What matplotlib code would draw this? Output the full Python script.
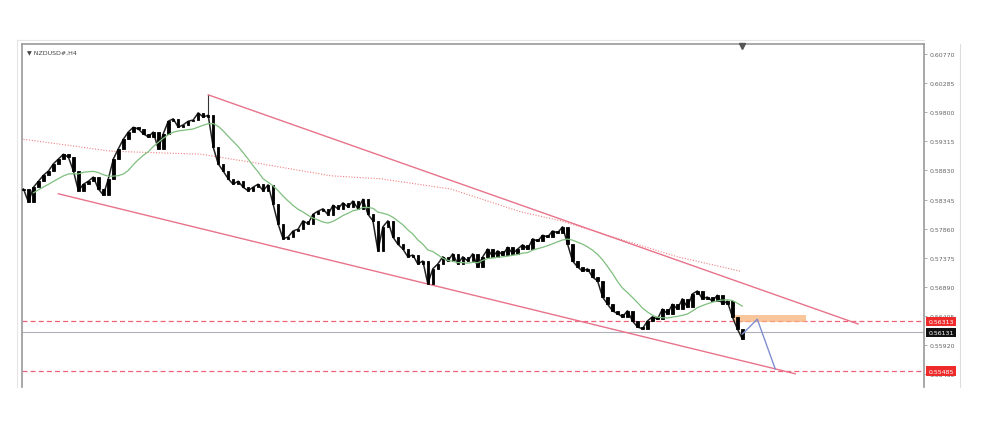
import numpy as np
import pandas as pd
import matplotlib.pyplot as plt
from matplotlib.lines import Line2D

# ---------- data ----------
closes = [
    0.5852, 0.5830, 0.5855, 0.5865, 0.5875, 0.5882, 0.5894, 0.5902, 0.5910, 0.5905,
    0.5882, 0.5849, 0.5860, 0.5865, 0.5872, 0.5852, 0.5842, 0.5869, 0.5902, 0.5919,
    0.5935, 0.5947, 0.5955, 0.5952, 0.5944, 0.5939, 0.5947, 0.5919, 0.5944, 0.5965,
    0.5969, 0.5955, 0.5959, 0.5965, 0.5967, 0.5979, 0.5972, 0.5975, 0.5922, 0.5894,
    0.5882, 0.5869, 0.5860, 0.5865, 0.5855, 0.5849, 0.5855, 0.5860, 0.5849, 0.5859,
    0.5827, 0.5794, 0.5769, 0.5772, 0.5782, 0.5785, 0.5799, 0.5794, 0.5810, 0.5815,
    0.5819, 0.5809, 0.5825, 0.5819, 0.5829, 0.5822, 0.5832, 0.5819, 0.5835, 0.5810,
    0.5799, 0.5749, 0.5789, 0.5799, 0.5772, 0.5760, 0.5752, 0.5739, 0.5742, 0.5727,
    0.5732, 0.5694, 0.5719, 0.5727, 0.5739, 0.5732, 0.5744, 0.5727, 0.5739, 0.5732,
    0.5744, 0.5722, 0.5739, 0.5752, 0.5739, 0.5749, 0.5742, 0.5755, 0.5744, 0.5752,
    0.5759, 0.5752, 0.5769, 0.5765, 0.5775, 0.5772, 0.5782, 0.5779, 0.5789, 0.5760,
    0.5732, 0.5722, 0.5715, 0.5719, 0.5705, 0.5699, 0.5672, 0.5660, 0.5649, 0.5644,
    0.5639, 0.5649, 0.5632, 0.5622, 0.5619, 0.5632, 0.5639, 0.5635, 0.5652, 0.5644,
    0.5660, 0.5652, 0.5669, 0.5655, 0.5677, 0.5682, 0.5669, 0.5672, 0.5665, 0.5675,
    0.5660, 0.5665, 0.5639, 0.5619, 0.5602,
]
first_open = 0.5850

# 200-period MA (red dotted), sampled at bar positions
ma200_x = [0, 17.6, 35.6, 47.6, 61.6, 71.6, 85.6, 99.6, 107.6, 131, 143.6]
ma200_y = [0.5935, 0.5915, 0.5910, 0.5894, 0.5874, 0.5869, 0.5852, 0.5814, 0.5799, 0.5739, 0.5715]

# trend channel
upper_x, upper_y = [37, 167.2], [0.6009, 0.5627]
lower_x, lower_y = [7, 154.6], [0.5844, 0.5544]

# levels
resist_level = 0.56313
support_level = 0.55485
last_price = 0.56131
zone_x = [142.2, 156.8]
zone_y = [0.5630, 0.5642]

# projected path
proj_x = [144, 147, 150.6]
proj_y = [0.5610, 0.5635, 0.5552]

tick_vals = [0.60770, 0.60285, 0.59800, 0.59315, 0.58830, 0.58345,
             0.57860, 0.57375, 0.56890, 0.56405, 0.55920, 0.55435]

# ---------- plot ----------
fig = plt.figure(figsize=(10, 4.35), dpi=100)
ax = fig.add_axes([0.022, 0.108, 0.902, 0.7885])

n = len(closes)
idx = np.arange(n)
opens = [first_open] + closes[:-1]
lo = np.minimum(opens, closes)
hi = np.maximum(opens, closes)
ax.bar(idx, hi - lo, bottom=lo, width=0.5, color="black", edgecolor="black", linewidth=0.6, zorder=4)
ax.plot(idx, closes, color="#222222", linewidth=1.1, zorder=3)
ax.vlines(37, closes[37], upper_y[0], color="#333333", linewidth=0.8, zorder=3)

ma = pd.Series(closes).rolling(11, min_periods=3).mean()
ax.plot(idx, ma, color="#7fbf7f", linewidth=0.9, zorder=5)
ax.plot(ma200_x, ma200_y, color="#f08080", linewidth=0.8, linestyle=(0, (1, 1.5)), zorder=2)

ax.plot(upper_x, upper_y, color="#e8728a", linewidth=1.0, zorder=2)
ax.plot(lower_x, lower_y, color="#e8728a", linewidth=1.0, zorder=2)

ax.axhline(resist_level, color="#f06078", linewidth=0.9, linestyle=(0, (4, 2.5)), zorder=1)
ax.axhline(support_level, color="#f06078", linewidth=0.9, linestyle=(0, (4, 2.5)), zorder=1)
ax.axhline(last_price, color="#b0b0b8", linewidth=0.8, zorder=1)
ax.fill_between(zone_x, zone_y[0], zone_y[1], color="#f7b27a", alpha=0.75, linewidth=0, zorder=2)
ax.plot(proj_x, proj_y, color="#7f8fd0", linewidth=1.0, zorder=6)

ax.set_xlim(-0.3, 180.4)
ax.set_ylim(0.55219, 0.60937)

ax.yaxis.tick_right()
ax.set_yticks(tick_vals)
ax.set_yticklabels([f"{v:.5f}" for v in tick_vals], fontsize=4.5, color="#666666")
ax.tick_params(axis="y", length=2, width=0.5, color="#888888", pad=2)
ax.set_xticks([])
for s in ["left", "top", "right"]:
    ax.spines[s].set_color("#9a9a9a")
    ax.spines[s].set_linewidth(1.2)
ax.spines["bottom"].set_visible(False)

# price labels on the scale
for val, bg in [(resist_level, "#ee2b2b"), (last_price, "#111111"), (support_level, "#ee2b2b")]:
    ax.annotate(f"{val:.5f}", xy=(1.0, val), xycoords=("axes fraction", "data"),
                xytext=(3, 0), textcoords="offset points", fontsize=4.5, color="white",
                va="center", ha="left",
                bbox=dict(boxstyle="square,pad=0.35", fc=bg, ec="none"))

ax.text(0.006, 0.985, "\u25bc NZDUSD#,H4", transform=ax.transAxes, fontsize=4.5,
        color="#444444", va="top", ha="left")
ax.plot([144], [0.6090], marker="v", color="#555555", markersize=4, clip_on=False, zorder=6)

fig.add_artist(Line2D([0.96, 0.96], [0.108, 0.8966], color="#dddddd", linewidth=0.8))
fig.add_artist(Line2D([0.017, 0.017], [0.108, 0.905], color="#e6e6e6", linewidth=0.8))
fig.add_artist(Line2D([0.017, 0.924], [0.905, 0.905], color="#e6e6e6", linewidth=0.8))

fig.savefig("out.png", dpi=100)
